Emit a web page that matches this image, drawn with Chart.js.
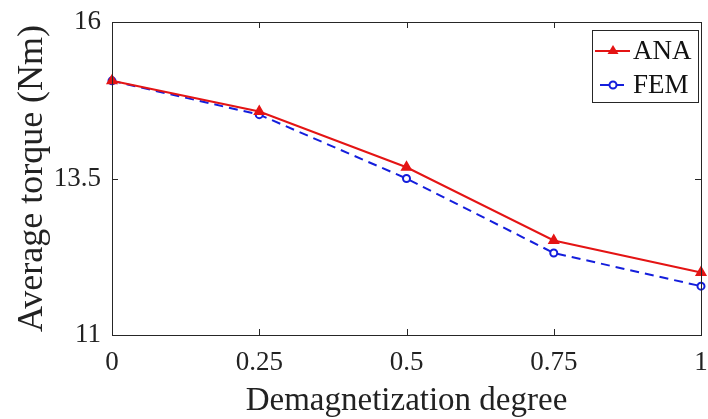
<!DOCTYPE html>
<html>
<head>
<meta charset="utf-8">
<script src="https://cdn.jsdelivr.net/npm/chart.js@4.4.1/dist/chart.umd.min.js"></script>
<style>
  html, body { margin: 0; padding: 0; background: #fff; overflow: hidden; }
  #wrap { width: 708px; height: 419px; }
</style>
</head>
<body>
<div id="wrap"><canvas id="chart" width="708" height="419"></canvas></div>
<script>
// demagnetization degree vs average torque
const degrees = [0, 0.25, 0.5, 0.75, 1];
const anaTorque = [15.06, 14.57, 13.68, 12.51, 12.0];
const femTorque = [15.06, 14.52, 13.5, 12.31, 11.78];
const xTicks = [0, 0.25, 0.5, 0.75, 1];
const yTicks = [11, 13.5, 16];

const serif = '"Liberation Serif", "Times New Roman", serif';

const toPoints = (vals) => vals.map((v, i) => ({ x: degrees[i], y: v }));

// inward ticks on all four sides, plus legend box inside the plot
const framePlugin = {
  id: 'frame',
  afterDraw(chart) {
    const { ctx, chartArea: a, scales } = chart;
    ctx.save();
    ctx.strokeStyle = '#262626';
    ctx.lineWidth = 1;
    ctx.strokeRect(a.left + 0.5, a.top + 0.5, a.right - a.left, a.bottom - a.top);
    const len = 6;
    ctx.beginPath();
    xTicks.forEach(t => {
      const x = Math.round(scales.x.getPixelForValue(t)) + 0.5;
      ctx.moveTo(x, a.bottom); ctx.lineTo(x, a.bottom - len);
      ctx.moveTo(x, a.top); ctx.lineTo(x, a.top + len);
    });
    yTicks.forEach(t => {
      const y = Math.round(scales.y.getPixelForValue(t)) + 0.5;
      ctx.moveTo(a.left, y); ctx.lineTo(a.left + len, y);
      ctx.moveTo(a.right, y); ctx.lineTo(a.right - len, y);
    });
    ctx.stroke();

    // legend
    const bx = 592, by = 30, bw = 106, bh = 72;
    ctx.fillStyle = '#fff';
    ctx.fillRect(bx, by, bw, bh);
    ctx.strokeStyle = '#262626';
    ctx.strokeRect(bx + 0.5, by + 0.5, bw, bh);
    ctx.font = '27px ' + serif;
    ctx.textBaseline = 'middle';
    chart.data.datasets.forEach((ds, i) => {
      const cy = by + 21 + i * 34;
      ctx.strokeStyle = ds.borderColor;
      ctx.lineWidth = 2;
      ctx.setLineDash(ds.borderDash || []);
      ctx.beginPath();
      const x0 = i === 0 ? bx + 3 : bx + 8;
      ctx.moveTo(x0, cy); ctx.lineTo(bx + 38, cy);
      ctx.stroke();
      ctx.setLineDash([]);
      const mx = bx + 21;
      if (ds.pointStyle === 'triangle') {
        ctx.fillStyle = ds.pointBackgroundColor;
        ctx.beginPath();
        ctx.moveTo(mx, cy - 6); ctx.lineTo(mx + 5.5, cy + 3); ctx.lineTo(mx - 5.5, cy + 3);
        ctx.closePath(); ctx.fill();
      } else {
        ctx.fillStyle = '#fff';
        ctx.beginPath(); ctx.arc(mx, cy, 3.5, 0, Math.PI * 2); ctx.fill(); ctx.stroke();
      }
      ctx.fillStyle = '#111';
      ctx.fillText(ds.label, bx + 41, cy + 1);
    });
    ctx.restore();
  }
};

new Chart(document.getElementById('chart'), {
  type: 'line',
  data: {
    datasets: [
      {
        label: 'ANA',
        data: toPoints(anaTorque),
        borderColor: 'rgb(228,20,20)',
        backgroundColor: 'rgb(228,20,20)',
        pointBackgroundColor: 'rgb(228,20,20)',
        pointBorderColor: 'rgb(228,20,20)',
        pointStyle: 'triangle',
        pointRadius: 5,
        borderWidth: 2,
        tension: 0
      },
      {
        label: 'FEM',
        data: toPoints(femTorque),
        borderColor: 'rgb(20,30,220)',
        backgroundColor: '#fff',
        pointBackgroundColor: '#fff',
        pointBorderColor: 'rgb(20,30,220)',
        pointStyle: 'circle',
        pointRadius: 3.5,
        pointBorderWidth: 2,
        borderWidth: 2,
        borderDash: [9, 6],
        tension: 0
      }
    ]
  },
  options: {
    responsive: false,
    animation: false,
    clip: false,
    layout: { padding: { top: 22, right: 3, left: 0, bottom: 0 } },
    plugins: { legend: { display: false }, tooltip: { enabled: false } },
    scales: {
      x: {
        type: 'linear',
        min: 0,
        max: 1,
        afterBuildTicks: (s) => { s.ticks = xTicks.map(v => ({ value: v })); },
        afterFit: (s) => { s.height = 84; s.paddingLeft = 0; s.paddingRight = 0; },
        ticks: {
          font: { family: serif, size: 27 },
          color: '#222',
          padding: 12,
          maxRotation: 0,
          callback: (v) => String(v)
        },
        grid: { display: false, drawTicks: false },
        border: { display: false },
        title: {
          display: true,
          text: 'Demagnetization degree',
          font: { family: serif, size: 33 },
          color: '#222',
          padding: { top: 0, bottom: -2 }
        }
      },
      y: {
        min: 11,
        max: 16,
        afterBuildTicks: (s) => { s.ticks = yTicks.map(v => ({ value: v })); },
        afterFit: (s) => { s.width = 112; s.paddingTop = 0; s.paddingBottom = 0; },
        ticks: {
          font: { family: serif, size: 27 },
          color: '#222',
          padding: 11,
          callback: (v) => String(v)
        },
        grid: { display: false, drawTicks: false },
        border: { display: false },
        title: {
          display: true,
          text: 'Average torque (Nm)',
          font: { family: serif, size: 36 },
          color: '#222',
          padding: { top: 11, bottom: 0 }
        }
      }
    }
  },
  plugins: [framePlugin]
});
</script>
</body>
</html>
